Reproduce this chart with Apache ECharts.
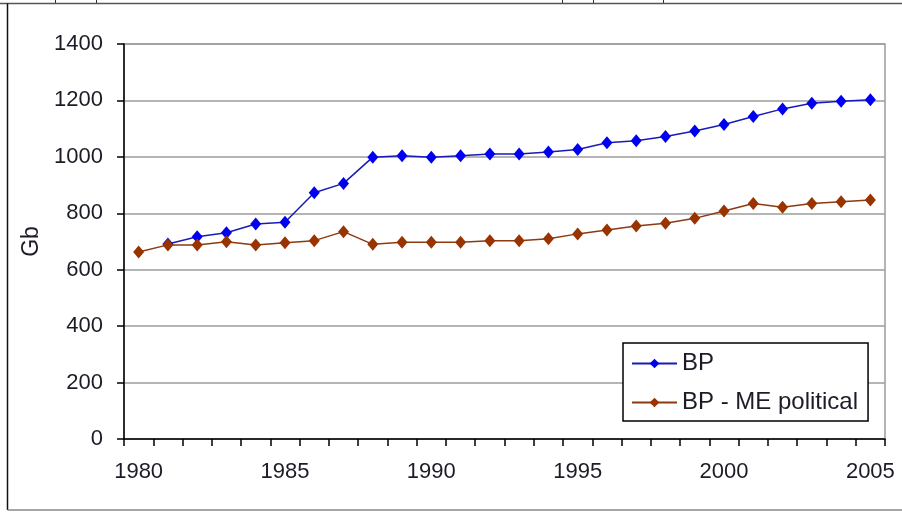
<!DOCTYPE html>
<html>
<head>
<meta charset="utf-8">
<script src="https://cdn.jsdelivr.net/npm/echarts@6/dist/echarts.min.js"></script>
<style>
  html, body { margin: 0; padding: 0; background: #fff; }
  #chart { width: 902px; height: 512px; }
</style>
</head>
<body>
<div id="chart"></div>
<script>
// years on the x axis
const years = ['1980', '1981', '1982', '1983', '1984', '1985', '1986', '1987', '1988', '1989',
  '1990', '1991', '1992', '1993', '1994', '1995', '1996', '1997', '1998', '1999',
  '2000', '2001', '2002', '2003', '2004', '2005']

// Gb
const bp = [null, 691, 717, 731, 762, 768, 873, 906, 999, 1004,
  999, 1004, 1010, 1010, 1017, 1026, 1050, 1057, 1072, 1092,
  1115, 1143, 1170, 1190, 1197, 1202]
const bpMePolitical = [663, 688, 688, 699, 688, 696, 703, 735, 690, 697,
  697, 697, 703, 703, 710, 727, 741, 755, 765, 782,
  808, 835, 821, 835, 841, 847]

const yTicks = [0, 200, 400, 600, 800, 1000, 1200, 1400]

const FONT = 'Liberation Sans'
const TEXT = '#1e1a26'
const GRID_GREY = '#9c9c9c'

const chart = echarts.init(document.getElementById('chart'))

chart.setOption({
  animation: false,
  backgroundColor: '#fff',
  textStyle: { fontFamily: FONT },
  grid: {
    left: 124, right: 17, top: 44, bottom: 73,
    show: true, borderColor: GRID_GREY, borderWidth: 1.5
  },
  legend: {
    orient: 'vertical',
    left: 623, top: 343,
    padding: [8, 10, 6, 8],
    backgroundColor: '#fff',
    borderColor: '#000', borderWidth: 1.5,
    itemWidth: 45, itemHeight: 12, itemGap: 14,
    textStyle: { fontFamily: FONT, fontSize: 24, color: TEXT, lineHeight: 25 },
    data: ['BP', 'BP - ME political']
  },
  xAxis: {
    type: 'category',
    data: years,
    boundaryGap: true,
    axisLine: { lineStyle: { color: '#000', width: 1.5 } },
    axisTick: { show: true, interval: 0, length: 7, lineStyle: { color: '#000', width: 1.5 } },
    axisLabel: { interval: 4, margin: 22, fontSize: 22, color: TEXT, fontFamily: FONT },
    splitLine: { show: false }
  },
  yAxis: {
    type: 'value',
    min: yTicks[0], max: yTicks[yTicks.length - 1], interval: 200,
    name: 'Gb', nameLocation: 'middle', nameGap: 70,
    nameTextStyle: { fontSize: 23, color: TEXT, fontFamily: FONT },
    axisLine: { show: true, lineStyle: { color: '#000', width: 1.5 } },
    axisTick: { show: true, length: 7, lineStyle: { color: '#000', width: 1.5 } },
    axisLabel: { margin: 21, fontSize: 22, color: TEXT, fontFamily: FONT, formatter: v => String(v) },
    splitLine: { lineStyle: { color: GRID_GREY, width: 1.5 } }
  },
  series: [
    {
      name: 'BP',
      type: 'line',
      data: bp,
      symbol: 'diamond', symbolSize: [11, 13], showAllSymbol: true,
      lineStyle: { color: '#1a1ab8', width: 1.5 },
      itemStyle: { color: '#0000f0' }
    },
    {
      name: 'BP - ME political',
      type: 'line',
      data: bpMePolitical,
      symbol: 'diamond', symbolSize: [11, 13], showAllSymbol: true,
      lineStyle: { color: '#8c3a10', width: 1.5 },
      itemStyle: { color: '#993300' }
    }
  ],
  // frame of the cropped sheet round the chart
  graphic: [
    { type: 'line', shape: { x1: 0, y1: 3.5, x2: 902, y2: 3.5 }, style: { stroke: '#555', lineWidth: 1.5 } },
    { type: 'line', shape: { x1: 7.5, y1: 3.5, x2: 7.5, y2: 510 }, style: { stroke: '#111', lineWidth: 1.5 } },
    { type: 'line', shape: { x1: 7.5, y1: 510, x2: 902, y2: 510 }, style: { stroke: '#888', lineWidth: 1.5 } },
    { type: 'line', shape: { x1: 55.5, y1: 0, x2: 55.5, y2: 3 }, style: { stroke: '#333', lineWidth: 1 } },
    { type: 'line', shape: { x1: 96.5, y1: 0, x2: 96.5, y2: 3 }, style: { stroke: '#333', lineWidth: 1 } },
    { type: 'line', shape: { x1: 562.5, y1: 0, x2: 562.5, y2: 3 }, style: { stroke: '#333', lineWidth: 1 } },
    { type: 'line', shape: { x1: 593.5, y1: 0, x2: 593.5, y2: 3 }, style: { stroke: '#333', lineWidth: 1 } },
    { type: 'line', shape: { x1: 663.5, y1: 0, x2: 663.5, y2: 3 }, style: { stroke: '#333', lineWidth: 1 } }
  ]
})

window.addEventListener('resize', () => chart.resize())
</script>
</body>
</html>
